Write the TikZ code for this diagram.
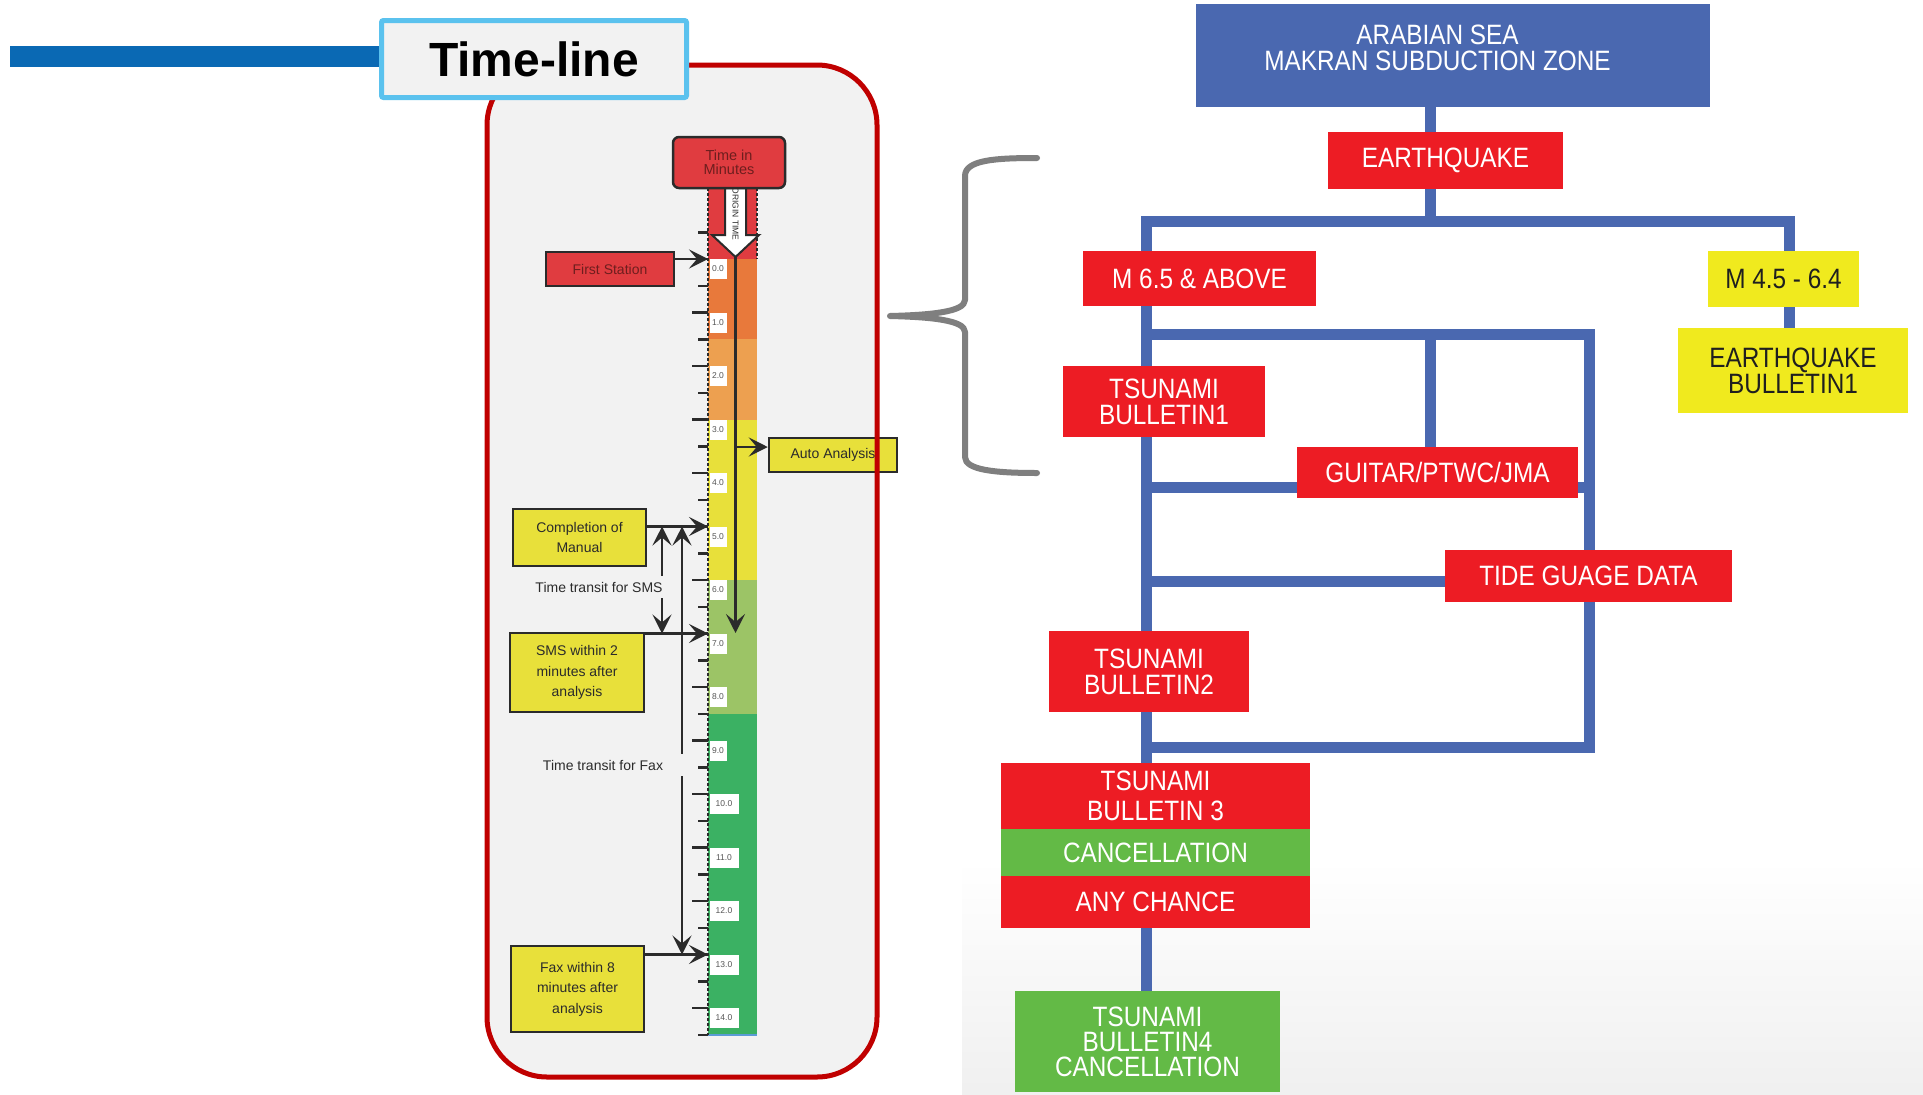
\documentclass[tikz,border=0pt]{standalone}
\usepackage{fontspec}
\setmainfont{Liberation Sans}
\newfontfamily\narrowfont[FakeStretch=0.87]{Liberation Sans}
\usetikzlibrary{arrows.meta,backgrounds,calc}
\definecolor{tlblue}{HTML}{0A69B4}
\definecolor{tlcyan}{HTML}{5BC2EE}
\definecolor{panelgrey}{HTML}{F2F2F2}
\definecolor{panelred}{HTML}{C00000}
\definecolor{tred}{HTML}{E03C40}
\definecolor{torange}{HTML}{E8793B}
\definecolor{tlorange}{HTML}{EDA050}
\definecolor{tyellow}{HTML}{E8E03A}
\definecolor{tlgreen}{HTML}{9CC466}
\definecolor{tgreen}{HTML}{3BB163}
\definecolor{ink}{HTML}{2B2B2B}
\definecolor{redink}{HTML}{6E1E1E}
\definecolor{fblue}{HTML}{4A68B0}
\definecolor{fred}{HTML}{ED1C24}
\definecolor{fgreen}{HTML}{63BA46}
\definecolor{fyellow}{HTML}{F0EA1E}
\definecolor{bracegrey}{HTML}{7F7F7F}
\definecolor{colblue}{HTML}{5B9BD5}
\begin{document}
\begin{tikzpicture}[x=1pt,y=-1pt,
  tlbox/.style={draw=ink, line width=2.5pt, inner sep=0pt, align=center, font=\fontsize{14}{20.5}\selectfont},
  tlred/.style={tlbox, fill=tred, text=redink},
  tlyel/.style={tlbox, fill=tyellow, text=ink},
  tarrow/.style={draw=ink, line width=2.5pt, -{Stealth[length=19pt,width=19pt,inset=8pt]}},
  tickline/.style={draw=ink, line width=2.5pt},
  minlab/.style={fill=white, inner sep=0pt, minimum height=20, font=\fontsize{8.5}{9}\selectfont, text=ink!80},
  transit/.style={font=\fontsize{14}{16}\selectfont, text=ink, inner xsep=2pt, inner ysep=6pt},
  flow/.style={inner sep=0pt, align=center, font=\narrowfont\fontsize{28}{26}\selectfont, text=white},
  fr/.style={flow, fill=fred},
  fg/.style={flow, fill=fgreen},
  fy/.style={flow, fill=fyellow, text=black!88},
  bline/.style={draw=fblue, line width=11pt}]
\useasboundingbox (0,0) rectangle (1923,1095);
\begin{pgfonlayer}{background}
  \fill[white] (0,0) rectangle (1923,1095);
  \shade[top color=white, bottom color=black!6] (962,860) rectangle (1923,1095);
\end{pgfonlayer}

% ---------- time-line panel ----------
\fill[panelgrey, rounded corners=60pt] (487,65) rectangle (877,1077);

% colour bands
\fill[tred]     (708,188)    rectangle (757,259);
\fill[torange]  (708,259)    rectangle (757,339.25);
\fill[tlorange] (708,339.25) rectangle (757,419.5);
\fill[tyellow]  (708,419.5)  rectangle (757,580);
\fill[tlgreen]  (708,580)    rectangle (757,713.75);
\fill[tgreen]   (708,713.75) rectangle (757,1034.75);
\draw[colblue, line width=2pt] (708,1034.75) -- (757,1034.75);

% labels on the scale
\foreach \m in {0,...,9} {
  \pgfmathsetmacro\yy{269+53.5*\m}
  \node[minlab, minimum width=17] (lab\m) at (718,\yy) {\m.0};
}
\foreach \m in {10,...,14} {
  \pgfmathsetmacro\yy{269+53.5*\m}
  \node[minlab, minimum width=29] (lab\m) at (724,\yy) {\m.0};
}

% dashed edges
\draw[ink, line width=2.5pt, dash pattern=on 3pt off 2pt] (708,188) -- (708,1035);
\draw[ink, line width=2.5pt, dash pattern=on 3pt off 2pt] (757,188) -- (757,259);

% ticks
\foreach \m in {0,...,14} {
  \pgfmathsetmacro\yy{259+53.5*\m}
  \draw[tickline] (692,\yy) -- (708,\yy);
}
\foreach \m in {-1,...,14} {
  \pgfmathsetmacro\yy{259+53.5*\m+26.75}
  \draw[tickline] (698,\yy) -- (708,\yy);
}

% origin arrow
\draw[ink, line width=2pt, fill=white] (725,188) -- (725,235) -- (712,235) -- (735.5,257) -- (759,235) -- (746,235) -- (746,188) -- cycle;
\node[rotate=-90, inner sep=0pt, font=\fontsize{8.5}{9}\selectfont, text=ink] (origin) at (735.5,214) {ORIGIN TIME};

\node[tlred, rounded corners=6pt, minimum width=112, minimum height=51, font=\fontsize{14.5}{14}\selectfont] (tim) at (729,162.5) {Time in\\Minutes};

\node[tlred, minimum width=128, minimum height=34] (fs) at (610,269) {First Station};
\node[tlyel, minimum width=128, minimum height=34] (auto) at (833,455) {Auto Analysis};
\node[tlyel, minimum width=133, minimum height=57] (cm) at (579.5,537.5) {Completion of\\Manual};
\node[tlyel, minimum width=134, minimum height=79] (sms) at (577,672.5) {SMS within 2\\minutes after\\analysis};
\node[tlyel, minimum width=133, minimum height=86] (fax) at (577.5,989) {Fax within 8\\minutes after\\analysis};

\coordinate (t0)  at (708,259);
\coordinate (t5)  at (708,526.5);
\coordinate (t7)  at (708,633.5);
\coordinate (t13) at (708,954.5);
\coordinate (otip) at (735.5,257);
\coordinate (a7)  at (735.5,633);
\coordinate (a35) at (735.5,447);

\draw[tarrow] (otip) -- (a7);
\draw[tarrow] (a35) -- (auto.west |- a35);
\draw[tarrow] (fs.east |- t0) -- (t0);
\draw[tarrow] (cm.east |- t5) -- (t5);
\draw[tarrow] (sms.east |- t7) -- (t7);
\draw[tarrow] (fax.east |- t13) -- (t13);

\node[transit] (smstxt) at (599,587) {Time transit for SMS};
\node[transit] (faxtxt) at (603,765) {Time transit for Fax};
\coordinate (sx) at (662,0);
\coordinate (fx) at (682,0);
\draw[tarrow] (sx |- smstxt.north) -- (sx |- t5);
\draw[tarrow] (sx |- smstxt.south) -- (sx |- t7);
\draw[tarrow] (fx |- faxtxt.north) -- (fx |- t5);
\draw[tarrow] (fx |- faxtxt.south) -- (fx |- t13);

\draw[panelred, line width=5pt, rounded corners=60pt] (487,65) rectangle (877,1077);

% header
\fill[tlblue] (10,46) rectangle (379,67);
\node[draw=tlcyan, line width=5pt, fill=panelgrey, rounded corners=2pt, minimum width=305, minimum height=77, inner sep=0pt, font=\bfseries\fontsize{48}{48}\selectfont] (tl) at (534,59) {Time-line};

% brace
\draw[bracegrey, line width=6pt, line cap=round, line join=round]
  (1037,158) .. controls (995,158) and (965,160) .. (965,176) -- (965,300)
  .. controls (965,312) and (930,315) .. (890,316)
  .. controls (930,317) and (965,320) .. (965,332) -- (965,457)
  .. controls (965,470) and (995,473) .. (1037,473);

% ---------- flow chart ----------
\node[flow, fill=fblue, minimum width=514, minimum height=103] (arab) at (1453,55.5) {};
\node[flow] (arabtxt) at (1437.5,48) {ARABIAN SEA\\MAKRAN SUBDUCTION ZONE};
\node[fr, minimum width=235, minimum height=57] (eq) at (1445.5,160.5) {EARTHQUAKE};
\node[fr, minimum width=233, minimum height=55] (m65) at (1199.5,278.5) {M 6.5 \& ABOVE};
\node[fy, minimum width=151, minimum height=56] (m45) at (1783.5,279) {M 4.5 - 6.4};
\node[fy, minimum width=230, minimum height=85] (eqb1) at (1793,370.5) {EARTHQUAKE\\BULLETIN1};
\node[fr, minimum width=202, minimum height=71] (tb1) at (1164,401.5) {TSUNAMI\\BULLETIN1};
\node[fr, minimum width=281, minimum height=51] (guitar) at (1437.5,472.5) {GUITAR/PTWC/JMA};
\node[fr, minimum width=287, minimum height=52] (tide) at (1588.5,576) {TIDE GUAGE DATA};
\node[fr, minimum width=200, minimum height=81] (tb2) at (1149,671.5) {TSUNAMI\\BULLETIN2};
\node[fr, minimum width=309, minimum height=66, font=\narrowfont\fontsize{28}{30}\selectfont] (tb3a) at (1155.5,796) {TSUNAMI\\BULLETIN 3};
\node[fg, minimum width=309, minimum height=47] (tb3b) at (1155.5,852.5) {CANCELLATION};
\node[fr, minimum width=309, minimum height=52] (tb3c) at (1155.5,902) {ANY CHANCE};
\node[fg, minimum width=265, minimum height=101, font=\narrowfont\fontsize{28}{25}\selectfont] (tb4) at (1147.5,1041.5) {TSUNAMI\\BULLETIN4\\CANCELLATION};

\coordinate (cx)  at (1430.5,221);
\coordinate (mx)  at (1146.5,221);
\coordinate (rx)  at (1789.5,221);
\coordinate (b2l) at (1146.5,334);
\coordinate (b2m) at (1430.5,334);
\coordinate (b2r) at (1589.5,334);
\coordinate (b3r) at (1589.5,747);
\coordinate (b3l) at (1146.5,747);
\coordinate (gl)  at (1146.5,487);
\coordinate (tdl) at (1146.5,581);

\begin{pgfonlayer}{background}
  \draw[bline] (arab.south -| cx) -- (eq.north -| cx);
  \draw[bline] (eq.south -| cx) -- (cx);
  \draw[bline] (tb3a.north -| mx) -- (mx) -- (rx) -- (m45.north -| rx);
  \draw[bline] (m45.south -| rx) -- (eqb1.north -| rx);
  \draw[bline] (b2l) -- (b2r) -- (b3r) -- (b3l);
  \draw[bline] (b2m) -- (guitar.north -| b2m);
  \draw[bline] (gl) -- (gl -| b2r);
  \draw[bline] (tdl) -- (tdl -| tide.west);
  \draw[bline] (tb3c.south -| mx) -- (tb4.north -| mx);
\end{pgfonlayer}
\end{tikzpicture}
\end{document}
